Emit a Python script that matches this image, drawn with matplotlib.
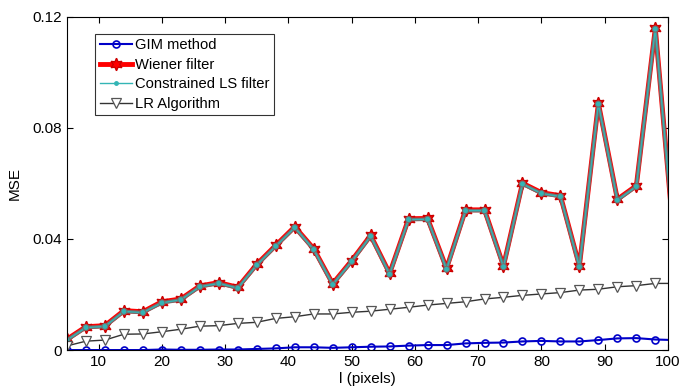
import numpy as np
import matplotlib.pyplot as plt
import matplotlib.patheffects as pe

plt.rcParams['font.family'] = ['Liberation Sans', 'DejaVu Sans']

# window size l (pixels), every 3 px from 5
l_pix = list(range(5, 102, 3))

gim = [0.0, 0.0, 0.0, 0.0, 0.0, 0.0002, 0.0001, 0.0001, 0.0002, 0.0002,
       0.0004, 0.0006, 0.0010, 0.0010, 0.0008, 0.0010, 0.0012, 0.0013,
       0.0016, 0.0018, 0.0018, 0.0024, 0.0026, 0.0027, 0.0031, 0.0033,
       0.0031, 0.0031, 0.0036, 0.0042, 0.0043, 0.0038, 0.0036]

wiener = [0.0039, 0.0084, 0.0088, 0.0142, 0.0138, 0.0174, 0.0184, 0.0231,
          0.0243, 0.0226, 0.0309, 0.0377, 0.0444, 0.0365, 0.0239, 0.0322,
          0.0413, 0.0276, 0.0473, 0.0474, 0.0294, 0.0505, 0.0505, 0.0303,
          0.0601, 0.0567, 0.0556, 0.0303, 0.0889, 0.0543, 0.0592, 0.1159,
          0.0380]

cls = [0.0036, 0.0081, 0.0085, 0.0139, 0.0135, 0.0170, 0.0181, 0.0228,
       0.0240, 0.0223, 0.0306, 0.0374, 0.0441, 0.0362, 0.0236, 0.0319,
       0.0410, 0.0273, 0.0470, 0.0471, 0.0291, 0.0502, 0.0502, 0.0300,
       0.0598, 0.0564, 0.0553, 0.0300, 0.0886, 0.0540, 0.0589, 0.1156,
       0.0377]

lr = [0.0015, 0.0032, 0.0036, 0.0057, 0.0058, 0.0066, 0.0075, 0.0086,
      0.0088, 0.0096, 0.0100, 0.0114, 0.0120, 0.0130, 0.0130, 0.0136,
      0.0140, 0.0147, 0.0154, 0.0162, 0.0168, 0.0174, 0.0184, 0.0190,
      0.0197, 0.0202, 0.0207, 0.0216, 0.0219, 0.0228, 0.0232, 0.0240,
      0.0240]

xticks = [10, 20, 30, 40, 50, 60, 70, 80, 90, 100]
yticks = [0, 0.04, 0.08, 0.12]
ytick_labels = ['0', '0.04', '0.08', '0.12']

fig = plt.figure(figsize=(6.94, 3.92), dpi=100)
ax = fig.add_axes([0.0965, 0.107, 0.866, 0.85])

ax.plot(l_pix, gim, color='#0000c8', lw=1.5, marker='o', ms=5,
        mfc='none', mew=1.2, label='GIM method')
ax.plot(l_pix, wiener, color='#ff0000', lw=3.5, marker=(6, 1, 0), ms=9,
        mfc='#ff0000', mec='#cc0000', label='Wiener filter')
cls_line, = ax.plot(l_pix, cls, color='#33b5b5', lw=1.0, marker='.', ms=5,
                    path_effects=[pe.Stroke(linewidth=2.6, foreground='#7a6a6a'), pe.Normal()],
                    label='Constrained LS filter')
ax.plot(l_pix, lr, color='#333333', lw=1.0, marker='v', ms=7,
        mfc='white', mec='#555555', mew=0.9, label='LR Algorithm')

ax.set_xlim(5, 100)
ax.set_ylim(0, 0.12)
ax.set_xticks(xticks)
ax.set_yticks(yticks)
ax.set_yticklabels(ytick_labels)
ax.tick_params(direction='in', top=True, right=True, labelsize=11, length=4)
ax.set_xlabel('l (pixels)', fontsize=11, labelpad=2)
ax.set_ylabel('MSE', fontsize=11, labelpad=8)

leg = ax.legend(loc='upper left', bbox_to_anchor=(0.047, 0.949), fontsize=10.6,
                frameon=True, fancybox=False, edgecolor='black',
                handlelength=2.2, handletextpad=0.2, borderpad=0.3,
                labelspacing=0.38, borderaxespad=0)
leg.get_frame().set_linewidth(0.8)
# plain cyan sample in the legend, like the original
leg.get_lines()[2].set_path_effects([])

fig.savefig('out.png', dpi=100)
